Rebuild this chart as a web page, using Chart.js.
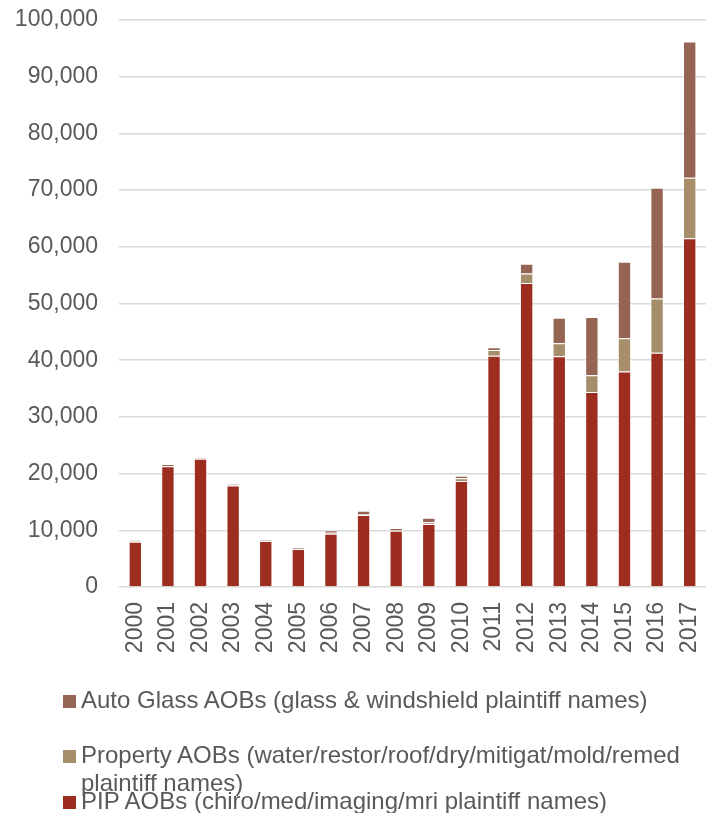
<!DOCTYPE html>
<html>
<head>
<meta charset="utf-8">
<script src="https://cdn.jsdelivr.net/npm/chart.js@4"></script>
<style>
    html, body { margin: 0; padding: 0; background: #fff; }
    #wrap { position: relative; width: 711px; height: 813px; }
    #aobChart { position: absolute; left: 0; top: 0; }
    .legend-item {
        position: absolute;
        left: 63px;
        font-family: 'Liberation Sans', Arial, sans-serif;
        font-size: 24px;
        line-height: 28px;
        color: #595959;
        white-space: nowrap;
    }
    .legend-item .swatch {
        position: absolute;
        left: 0;
        top: 9px;
        width: 13px;
        height: 13px;
    }
    .legend-item .label { position: absolute; left: 18px; top: 0; }
</style>
</head>
<body>
<div id="wrap">
    <canvas id="aobChart" width="711" height="813"></canvas>
    <div id="legend"></div>
</div>
<script>
const years = ['2000', '2001', '2002', '2003', '2004', '2005', '2006', '2007', '2008',
    '2009', '2010', '2011', '2012', '2013', '2014', '2015', '2016', '2017'];

const pipAOBs = [8000, 21300, 22600, 17900, 8100, 6700, 9400, 12700, 9900,
    11100, 18700, 40800, 53600, 40700, 34400, 38000, 41300, 61500];
const propertyAOBs = [50, 50, 50, 50, 50, 50, 150, 150, 100,
    300, 500, 1000, 1700, 2300, 2950, 5850, 9600, 10700];
const autoGlassAOBs = [200, 300, 200, 200, 200, 250, 450, 600, 400,
    800, 400, 500, 1700, 4500, 10250, 13500, 19500, 24000];

const yTicks = [0, 10000, 20000, 30000, 40000, 50000, 60000, 70000, 80000, 90000, 100000];

const seriesNames = [
    'PIP AOBs (chiro/med/imaging/mri plaintiff names)',
    'Property AOBs (water/restor/roof/dry/mitigat/mold/remed\nplaintiff names)',
    'Auto Glass AOBs (glass & windshield plaintiff names)'
];

document.addEventListener('DOMContentLoaded', () => {
    const textColor = '#595959';
    const fontFamily = "'Liberation Sans', Arial, sans-serif";

    // 1. Stacked bar chart
    const ctx = document.getElementById('aobChart').getContext('2d');
    const colors = ['#9c2d1f', '#a68e6a', '#966452'];
    const seriesData = [pipAOBs, propertyAOBs, autoGlassAOBs];

    new Chart(ctx, {
        type: 'bar',
        data: {
            labels: years,
            datasets: seriesData.map((d, i) => ({
                label: seriesNames[i],
                data: d,
                backgroundColor: colors[i],
                borderColor: 'rgba(255,255,255,0.65)',
                borderWidth: 1,
                categoryPercentage: 1,
                barPercentage: 0.41
            }))
        },
        options: {
            responsive: false,
            animation: false,
            layout: { padding: { top: 20, right: 5, left: 0, bottom: 146 } },
            scales: {
                x: {
                    stacked: true,
                    grid: { display: false, drawTicks: false },
                    border: { display: false },
                    ticks: {
                        color: textColor,
                        font: { family: fontFamily, size: 23 },
                        minRotation: 90,
                        maxRotation: 90,
                        autoSkip: false,
                        padding: 15
                    },
                    afterFit: (scale) => {
                        scale.height = 80;
                        scale.paddingLeft = 0;
                        scale.paddingRight = 0;
                    }
                },
                y: {
                    stacked: true,
                    min: 0,
                    max: 100000,
                    afterBuildTicks: (scale) => {
                        scale.ticks = yTicks.map(v => ({ value: v }));
                    },
                    grid: { color: '#d9d9d9', lineWidth: 1.5, drawTicks: false },
                    border: { display: false },
                    ticks: {
                        color: textColor,
                        font: { family: fontFamily, size: 23 },
                        padding: 21,
                        callback: (v) => v.toLocaleString('en-US')
                    },
                    afterFit: (scale) => {
                        scale.width = 119;
                        scale.paddingTop = 0;
                        scale.paddingBottom = 0;
                    }
                }
            },
            plugins: {
                legend: { display: false },
                tooltip: { enabled: false }
            }
        }
    });

    // 2. HTML legend (Auto Glass on top, PIP at the bottom, like the original)
    const legendTops = [787, 741, 686];
    const legend = document.getElementById('legend');
    [2, 1, 0].forEach(i => {
        const item = document.createElement('div');
        item.className = 'legend-item';
        item.style.top = legendTops[i] + 'px';
        const sw = document.createElement('div');
        sw.className = 'swatch';
        sw.style.background = colors[i];
        const lbl = document.createElement('div');
        lbl.className = 'label';
        lbl.innerHTML = seriesNames[i].replace('\n', '<br>');
        item.appendChild(sw);
        item.appendChild(lbl);
        legend.appendChild(item);
    });
});
</script>
</body>
</html>
